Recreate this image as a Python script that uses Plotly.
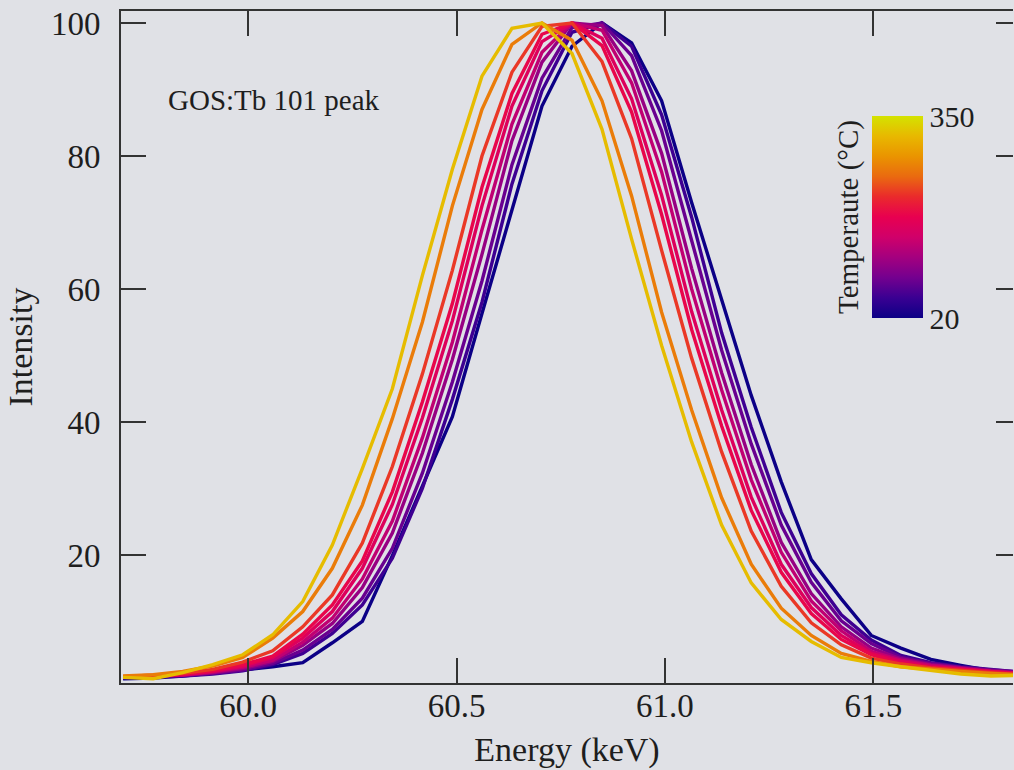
import plotly.graph_objects as go
from plotly.colors import sample_colorscale

energy = [59.700, 59.772, 59.843, 59.915, 59.987, 60.059, 60.131, 60.202, 60.274, 60.346,
          60.418, 60.490, 60.561, 60.633, 60.705, 60.777, 60.849, 60.920, 60.992, 61.064,
          61.136, 61.207, 61.279, 61.351, 61.423, 61.495, 61.566, 61.638, 61.710, 61.782, 61.853]

temperatures = [20, 55, 80, 110, 140, 170, 190, 225, 265, 320]

i_020 = [1.4, 1.5, 1.8, 2.2, 2.7, 3.2, 3.8, 6.8, 10.0, 19.9, 30.2, 40.8, 56.3, 71.7, 87.5, 96.5, 100, 97.0, 88.3, 73.0, 58.3, 44.0, 31.0, 19.3, 13.4, 7.9, 6.0, 4.3, 3.4, 2.6, 2.2]
i_055 = [1.5, 1.6, 1.8, 2.1, 2.6, 3.5, 5.2, 8.2, 12.5, 19.5, 30.0, 43.4, 58.0, 75.8, 89.8, 98.6, 100, 96.5, 86.2, 70.8, 53.4, 39.2, 26.4, 17.2, 11.0, 7.2, 4.9, 3.8, 3.2, 2.8, 2.4]
i_080 = [1.6, 1.7, 1.9, 2.2, 2.7, 3.7, 5.7, 8.8, 13.5, 21.0, 32.3, 46.0, 61.2, 78.7, 91.7, 99.3, 100, 95.1, 83.8, 67.3, 50.8, 36.7, 24.5, 15.9, 10.1, 6.7, 4.6, 3.7, 3.1, 2.7, 2.4]
i_110 = [1.6, 1.7, 1.9, 2.3, 2.9, 4.0, 6.4, 9.7, 15.1, 23.3, 35.3, 49.4, 65.2, 82.3, 94.1, 100, 99.6, 92.8, 80.4, 63.1, 47.4, 33.6, 21.9, 14.2, 9.2, 6.0, 4.4, 3.5, 3.0, 2.6, 2.3]
i_140 = [1.6, 1.8, 2.0, 2.4, 3.1, 4.2, 6.9, 10.5, 16.4, 25.1, 37.6, 52.0, 68.9, 84.8, 95.6, 100, 98.9, 91.0, 77.6, 60.0, 44.8, 31.3, 20.4, 13.1, 8.6, 5.5, 4.2, 3.4, 2.9, 2.5, 2.2]
i_170 = [1.7, 1.8, 2.0, 2.5, 3.3, 4.6, 7.5, 11.5, 18.0, 27.6, 40.6, 55.2, 72.5, 87.5, 97.2, 100, 97.7, 88.6, 74.1, 56.6, 41.8, 28.7, 18.6, 12.1, 7.9, 5.2, 4.0, 3.2, 2.8, 2.5, 2.2]
i_190 = [1.7, 1.8, 2.1, 2.6, 3.5, 4.8, 8.1, 12.5, 19.1, 29.5, 43.0, 57.8, 75.3, 89.4, 98.3, 100, 96.6, 86.6, 71.2, 53.9, 39.4, 26.7, 17.4, 11.2, 7.3, 5.0, 3.7, 3.1, 2.8, 2.4, 2.1]
i_225 = [1.7, 1.9, 2.2, 2.8, 3.9, 5.6, 9.2, 14.0, 21.8, 33.3, 47.2, 62.8, 80.0, 92.6, 99.5, 100, 94.2, 82.6, 65.8, 49.6, 35.5, 23.6, 15.3, 9.8, 6.5, 4.5, 3.6, 3.0, 2.6, 2.3, 2.0]
i_265 = [1.8, 2.0, 2.5, 3.3, 4.6, 7.5, 11.5, 18.0, 27.5, 40.5, 55.0, 72.5, 87.0, 96.8, 100, 97.4, 88.3, 74.0, 56.5, 41.8, 28.6, 18.6, 12.0, 7.9, 5.2, 4.0, 3.2, 2.8, 2.5, 2.2, 2.0]
i_320 = [1.6, 1.4, 2.3, 3.5, 5.0, 8.0, 13.0, 21.5, 33.0, 45.0, 62.0, 78.0, 92.0, 99.2, 100, 95.4, 84.0, 67.5, 51.5, 37.0, 24.5, 15.8, 10.3, 7.0, 4.6, 3.8, 3.2, 2.6, 2.1, 1.8, 1.9]

intensities = [i_020, i_055, i_080, i_110, i_140, i_170, i_190, i_225, i_265, i_320]

y_ticks = [20, 40, 60, 80, 100]
x_ticks = [60.0, 60.5, 61.0, 61.5]
x_tick_text = ["60.0", "60.5", "61.0", "61.5"]
cbar_range = [20, 350]

colorscale = [
    [0.0, "#0c0086"],
    [0.1, "#3a0092"],
    [0.2, "#74008f"],
    [0.3, "#a4007f"],
    [0.4, "#d0006a"],
    [0.5, "#e80050"],
    [0.6, "#ea2a2c"],
    [0.7, "#ea6a10"],
    [0.8, "#ea9400"],
    [0.9, "#e8b800"],
    [1.0, "#d4e300"],
]

BG = "#e0e1e6"
AX = "#333333"
FONT = "Liberation Serif, Times New Roman, serif"
TXT = "#1e1e1e"

fig = go.Figure()
for t, vals in zip(temperatures, intensities):
    pos = (t - cbar_range[0]) / (cbar_range[1] - cbar_range[0])
    col = sample_colorscale(colorscale, [pos])[0]
    fig.add_trace(go.Scatter(x=energy, y=vals, mode="lines",
                             line=dict(color=col, width=3.4),
                             showlegend=False, hoverinfo="skip"))

fig.add_trace(go.Scatter(
    x=[None, None], y=[None, None], mode="markers", yaxis="y2",
    marker=dict(color=cbar_range, cmin=cbar_range[0], cmax=cbar_range[1],
                colorscale=colorscale, showscale=True,
                colorbar=dict(thickness=51, len=202, lenmode="pixels",
                              x=0.842, xanchor="left", xpad=0,
                              y=0.693, yanchor="middle", ypad=0,
                              outlinewidth=0, ticks="",
                              tickvals=cbar_range,
                              ticktext=[str(v) for v in cbar_range],
                              tickfont=dict(family=FONT, size=30, color=TXT))),
    showlegend=False, hoverinfo="skip"))

fig.update_layout(
    width=1014, height=770,
    margin=dict(l=121, r=1, t=11, b=87),
    paper_bgcolor=BG, plot_bgcolor=BG,
    font=dict(family=FONT, color=TXT),
    xaxis=dict(range=[59.695, 61.835], tickvals=x_ticks, ticktext=x_tick_text,
               ticks="inside", ticklen=25, tickwidth=2, tickcolor=AX,
               showline=True, linewidth=2, linecolor=AX, mirror="ticks",
               showgrid=False, zeroline=False,
               tickfont=dict(family=FONT, size=33, color=TXT), ticklabelstandoff=-8,
               title=dict(text="Energy (keV)", font=dict(family=FONT, size=34, color=TXT), standoff=15)),
    yaxis=dict(range=[0.75, 101.8], tickvals=y_ticks,
               ticks="inside", ticklen=25, tickwidth=2, tickcolor=AX,
               showline=True, linewidth=2, linecolor=AX, mirror=False,
               showgrid=False, zeroline=False,
               tickfont=dict(family=FONT, size=33, color=TXT), ticklabelstandoff=12,
               title=dict(text="Intensity", font=dict(family=FONT, size=34, color=TXT), standoff=8)),
    yaxis2=dict(range=[0.75, 101.8], tickvals=y_ticks, overlaying="y", side="right",
                ticks="inside", ticklen=17, tickwidth=2, tickcolor=AX,
                showticklabels=False, showline=False, showgrid=False, zeroline=False),
    annotations=[
        dict(text="GOS:Tb 101 peak", xref="paper", yref="paper",
             x=(166 - 121) / 892, y=(683 - 100) / 672, xanchor="left", yanchor="middle",
             showarrow=False, font=dict(size=29, family=FONT, color=TXT)),
        dict(text="Temperaute (°C)", xref="paper", yref="paper",
             x=(848 - 121) / 892, y=(683 - 217) / 672, xanchor="center", yanchor="middle",
             textangle=-90, showarrow=False, font=dict(size=29, family=FONT, color=TXT)),
    ],
)

fig.write_html("out.html")
